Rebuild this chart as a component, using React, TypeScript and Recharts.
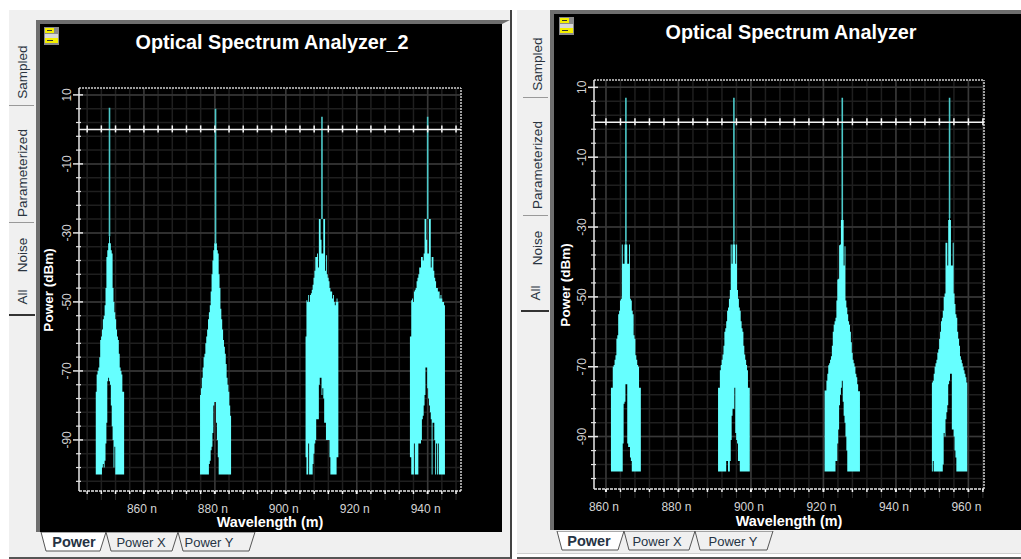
import React from "react";
import { Area, CartesianGrid, ComposedChart, Line, ReferenceLine, XAxis, YAxis } from "recharts";

const FONT = '"Liberation Sans", Arial, sans-serif';

// nm from each carrier; every band below has one value per offset
const offsets = [
  -5, -4.75, -4.5, -4.25, -4, -3.75, -3.5, -3.25, -3, -2.75,
  -2.5, -2.25, -2, -1.75, -1.5, -1.25, -1, -0.75, -0.5, -0.25,
  0, 0.25, 0.5, 0.75, 1, 1.25, 1.5, 1.75, 2, 2.25,
  2.5, 2.75, 3, 3.25, 3.5, 3.75, 4, 4.25, 4.5, 4.75,
  5,
];

const flatRow = [-100, -100, -100, -100, -100, -100, -100, -100, -100, -100];

// left analyzer (Optical Spectrum Analyzer_2)
const top850 = [
  -100, -100, -100, -100, -100, -76, -71, -70, -69, -66,
  -61, -60, -58, -55, -54, -51, -46, -37, -35, -33,
  -31, -33, -35, -36, -46, -50, -53, -55, -58, -60,
  -61, -65, -69, -70, -71, -76, -76, -100, -100, -100,
  -100,
];
const floor850 = [
  ...flatRow,
  -100, -100, -98, -97, -98, -96, -91, -85, -73, -72,
  -73, -74, -80, -86, -90, -98, -92, -100, -100, -100,
  ...flatRow,
  -100,
];
const top880 = [
  -100, -100, -100, -77, -75, -72, -69, -66, -65, -62,
  -60, -58, -55, -53, -51, -47, -42, -38, -35, -33,
  -33, -33, -35, -36, -42, -46, -52, -55, -58, -61,
  -63, -65, -68, -72, -74, -76, -80, -83, -100, -100,
  -100,
];
const floor880 = [
  ...flatRow,
  -100, -100, -100, -97, -96, -93, -92, -88, -80, -79,
  -79, -85, -90, -95, -100, -100, -100, -100, -100, -100,
  ...flatRow,
  -100,
];
const top910 = [
  -100, -100, -60, -49.5, -50, -48, -50, -48, -47.5, -46.5,
  -45, -43, -41, -37, -37, -36, -40, -26, -26, -32,
  -36, -36, -26, -26, -41, -36.5, -42, -43, -44, -46,
  -47, -47, -49, -48, -50, -51, -50, -49, -50, -100,
  -100,
];
const floor910 = [
  -100, -100, -95, -100, -100, -91, -100, -100, -100, -100,
  -97, -94, -91, -90, -84, -84, -84, -74, -72, -72,
  -77, -75, -78, -85, -85, -90, -90, -90, -90, -95,
  -100, -100, -100, -100, -100, -100, -100, -95, -95, -100,
  -100,
];
const top940 = [
  -60, -60, -49.5, -49, -50, -47, -46.5, -46, -44, -43,
  -42, -40, -40, -37, -37, -38, -36, -26, -26, -32,
  -36, -36, -26, -26, -40, -37, -37, -41, -43, -44,
  -46, -46, -47, -47, -49, -48, -49, -50, -50, -51,
  -100,
];
const floor940 = [
  -95, -95, -100, -100, -100, -91, -100, -100, -100, -100,
  -91, -91, -91, -90, -84, -83, -80, -77, -69, -69,
  -75, -78, -80, -82, -84, -100, -85, -85, -90, -100,
  -91, -100, -91, -100, -100, -100, -100, -100, -100, -100,
  -100,
];

// right analyzer
const top865 = [
  -100, -100, -100, -100, -76, -76, -70, -69.5, -68, -66.7,
  -62, -61, -55, -54, -51, -50.5, -35, -40.5, -40.5, -35,
  -34, -35, -40.5, -40.5, -35, -50.5, -51, -54, -55, -61,
  -62, -66.7, -68, -69.5, -70, -76, -76, -100, -100, -100,
  -100,
];
const floor865 = [
  ...flatRow,
  -100, -100, -100, -100, -100, -100, -100, -92, -80.6, -80,
  -75, -75, -92, -93, -93, -96, -97, -100, -100, -100,
  ...flatRow,
  -100,
];
const top895 = [
  -100, -100, -100, -76, -76, -71, -69.5, -68, -66.5, -64,
  -60, -59, -57, -54, -53, -50.5, -48, -35, -40.5, -35,
  -34, -35, -40.5, -35, -48, -50.5, -53, -54, -57, -59,
  -60, -64, -66.5, -68, -69.5, -71, -76, -76, -100, -100,
  -100,
];
const floor895 = [
  ...flatRow,
  -100, -100, -97, -97, -100, -100, -97, -91, -84, -82,
  -82, -76, -89, -91, -92, -97, -97, -100, -100, -100,
  ...flatRow,
  -100,
];
const top925 = [
  -100, -76.8, -76.8, -74, -72, -69.6, -69, -68, -67, -64,
  -60, -58, -57, -56, -51, -45, -44.8, -35.2, -35, -28,
  -28, -28, -41, -35.5, -51, -53, -55, -57, -58, -60,
  -63, -66, -68, -69, -70, -72, -73, -75, -77, -77,
  -100,
];
const floor925 = [
  ...flatRow,
  -100, -100, -100, -97, -97, -92, -88, -81, -78, -76,
  -74, -80, -84, -86, -90, -94, -100, -100, -100, -100,
  ...flatRow,
  -100,
];
const top955 = [
  -100, -74.5, -74, -72, -70, -69, -68, -66, -65, -62,
  -60, -57, -56, -54, -50, -49, -34.5, -34.5, -41, -28,
  -27.5, -28, -41, -41, -34.5, -49, -52, -55, -56, -60,
  -62, -64, -67, -68, -69, -70, -71, -72, -73, -74.5,
  -100,
];
const floor955 = [
  -100, -100, -97, -100, -100, -100, -100, -100, -100, -100,
  -100, -100, -100, -98, -89, -90, -85, -83, -81, -75,
  -74, -72, -72, -88, -88, -90, -94, -96, -100, -100,
  ...flatRow,
  -100,
];

const leftCarriers = [850.3, 880.2, 910.2, 940];
const leftPeakPower = [6.3, 6, 3.7, 3.7];
const leftTops = [top850, top880, top910, top940];
const leftFloors = [floor850, floor880, floor910, floor940];
const leftSpikeFoot = [-31, -33, -26, -26];
const leftDomainX = [841.7, 949.4];
const leftDomainY = [-104.8, 12];
const leftTicksX = [844, 848, 852, 856, 860, 864, 868, 872, 876, 880, 884, 888, 892, 896, 900, 904, 908, 912, 916, 920, 924, 928, 932, 936, 940, 944, 948];

const rightCarriers = [865.5, 895.3, 925.2, 954.8];
const rightPeakPower = [7, 7, 7, 7];
const rightTops = [top865, top895, top925, top955];
const rightFloors = [floor865, floor895, floor925, floor955];
const rightSpikeFoot = [-34, -34, -28, -27.5];
const rightDomainX = [856.7, 964.3];
const rightDomainY = [-105, 12.1];
const rightTicksX = [860, 864, 868, 872, 876, 880, 884, 888, 892, 896, 900, 904, 908, 912, 916, 920, 924, 928, 932, 936, 940, 944, 948, 952, 956, 960, 964];

const ticksY = [10, 6, 2, -2, -6, -10, -14, -18, -22, -26, -30, -34, -38, -42, -46, -50, -54, -58, -62, -66, -70, -74, -78, -82, -86, -90, -94, -98, -102];
const majorY = [10, -10, -30, -50, -70, -90];
const majorX = [860, 880, 900, 920, 940, 960];

const sideTabs = ["Sampled", "Parameterized", "Noise", "All"];
const plotTabs = ["Power", "Power X", "Power Y"];

function buildRows(carriers: number[], tops: number[][], floors: number[][], peaks: number[], feet: number[], domain: number[], ticks: number[]) {
  const rows: any[] = [];
  carriers.forEach((c, p) => {
    offsets.forEach((o, i) => rows.push({ wl: c + o, band: [floors[p][i], tops[p][i]] }));
    rows.push({ wl: c + 5.1, band: [null, null] });
  });
  carriers.forEach((c, p) => {
    rows.push({ wl: c, spike: peaks[p] });
    rows.push({ wl: c, spike: feet[p] });
    rows.push({ wl: c });
  });
  // the axis that crosses at 0 dBm, with its own tick marks
  rows.push({ wl: domain[0], zero: 0 });
  ticks.forEach((t) => rows.push({ wl: t, zero: 0, mark: true }));
  rows.push({ wl: domain[1], zero: 0 });
  return rows;
}

const XTick = ({ x, y, payload }: any) => {
  const major = majorX.includes(payload.value);
  return (
    <g>
      <line x1={x} x2={x} y1={y - 8} y2={y - 5} stroke="#f0f0f0" strokeWidth={major ? 2 : 1.5} />
      <line x1={x} x2={x} y1={y - 5} y2={y + 1} stroke="#2a2a2a" strokeWidth={1} />
      {major && (
        <text x={x - 2} y={y + 14} textAnchor="middle" fontSize={12} fontFamily={FONT} fill="#d4d4d4">
          {payload.value + " n"}
        </text>
      )}
    </g>
  );
};

const YTick = ({ x, y, payload }: any) => {
  const major = majorY.includes(payload.value);
  return (
    <g>
      <line x1={major ? x + 2 : x + 5} x2={major ? x + 12 : x + 10} y1={y} y2={y} stroke="#e4e4e4" strokeWidth={major ? 1.5 : 1.2} />
      {major && (
        <text x={x} y={y} transform={`rotate(-90 ${x} ${y})`} textAnchor="middle" fontSize={12} fontFamily={FONT} fill="#d4d4d4">
          {payload.value}
        </text>
      )}
    </g>
  );
};

const ZeroMark = ({ cx, cy, payload, key }: any) =>
  payload.mark ? <line key={key ?? payload.wl} x1={cx} x2={cx} y1={cy - 4} y2={cy + 3} stroke="#f4f4f4" strokeWidth={1.5} /> : <g key={key ?? payload.wl} />;

function Spectrum({ width, height, margin, rows, domainX, domainY, ticksX, axisWidth, axisHeight, powerX, powerY }: any) {
  const majorGridX = majorX.filter((v) => v > domainX[0] && v < domainX[1]);
  return (
    <ComposedChart width={width} height={height} data={rows} margin={margin}>
      <CartesianGrid stroke="#1f1f1f" strokeWidth={1.5} horizontalValues={ticksY} verticalValues={ticksX} />
      <CartesianGrid stroke="#383838" strokeWidth={1.5} horizontalValues={majorY} verticalValues={majorGridX} />
      <XAxis
        type="number"
        dataKey="wl"
        domain={domainX}
        ticks={ticksX}
        interval={0}
        allowDataOverflow
        height={axisHeight}
        tickLine={false}
        tick={<XTick />}
        axisLine={{ stroke: "#e8e8e8", strokeWidth: 1.5, strokeDasharray: "3 1" }}
        label={{ value: "Wavelength (m)", position: "insideBottom", offset: 4, fill: "#ffffff", fontSize: 14.4, fontWeight: 700, fontFamily: FONT }}
      />
      <YAxis
        type="number"
        domain={domainY}
        ticks={ticksY}
        interval={0}
        allowDataOverflow
        width={axisWidth}
        tickLine={false}
        tick={<YTick />}
        axisLine={{ stroke: "#e8e8e8", strokeWidth: 1.5 }}
        label={{
          content: () => (
            <text
              x={powerX}
              y={powerY}
              transform={`rotate(-90 ${powerX} ${powerY})`}
              textAnchor="middle"
              fill="#ffffff"
              fontSize={13.5}
              fontWeight={700}
              fontFamily={FONT}
            >
              Power (dBm)
            </text>
          ),
        }}
      />
      <ReferenceLine y={domainY[1]} stroke="#d0d0d0" strokeDasharray="2 1" strokeWidth={1.5} />
      <ReferenceLine x={domainX[1]} stroke="#d0d0d0" strokeDasharray="2 1" strokeWidth={1.5} />
      <Area dataKey="band" type="step" stroke="none" fill="#66ffff" fillOpacity={1} dot={false} activeDot={false} isAnimationActive={false} />
      <Line dataKey="spike" stroke="#4cc8c8" strokeWidth={1.6} dot={false} activeDot={false} isAnimationActive={false} />
      <Line dataKey="zero" stroke="#f4f4f4" strokeWidth={1.5} dot={<ZeroMark />} activeDot={false} isAnimationActive={false} />
    </ComposedChart>
  );
}

const rotated = (cx: number, cy: number): React.CSSProperties => ({
  position: "absolute",
  left: cx,
  top: cy,
  transform: "translate(-50%,-50%) rotate(-90deg)",
  fontFamily: FONT,
  fontSize: 13.5,
  color: "#2a3440",
  whiteSpace: "nowrap",
});

const Icon = ({ x, y }: { x: number; y: number }) => (
  <svg style={{ position: "absolute", left: x, top: y }} width={15} height={18}>
    <rect x={0} y={0} width={15} height={18} fill="#8a8a8a" />
    <rect x={1} y={1} width={9} height={5} fill="#f4f000" />
    <rect x={1} y={7} width={13} height={4} fill="#d8d8d8" />
    <rect x={1} y={11} width={13} height={5} fill="#f4f000" />
    <rect x={3} y={13} width={6} height={1} fill="#333" />
    <rect x={3} y={3} width={5} height={1} fill="#333" />
  </svg>
);

function BottomTabs({ x, y, edges, centers }: { x: number; y: number; edges: number[]; centers: number[] }) {
  return (
    <svg style={{ position: "absolute", left: x, top: y }} width={280} height={24}>
      {plotTabs.map((t, i) => {
        const a = edges[i] - x;
        const b = edges[i + 1] - x;
        const pts = `${a},0 ${a + 5},19 ${b - 6},19 ${b},0`;
        return (
          <g key={t}>
            <polygon points={pts} fill={i === 0 ? "#ffffff" : "#f0f0f0"} stroke="#555" strokeWidth={1} />
            <text
              x={centers[i] - x}
              y={15}
              textAnchor="middle"
              fontSize={i === 0 ? 14.5 : 13}
              fontFamily={FONT}
              fontWeight={i === 0 ? 700 : 400}
              fill="#263444"
            >
              {t}
            </text>
          </g>
        );
      })}
    </svg>
  );
}

export default function App() {
  const leftRows = buildRows(leftCarriers, leftTops, leftFloors, leftPeakPower, leftSpikeFoot, leftDomainX, leftTicksX);
  const rightRows = buildRows(rightCarriers, rightTops, rightFloors, rightPeakPower, rightSpikeFoot, rightDomainX, rightTicksX);
  const titleStyle: React.CSSProperties = {
    position: "absolute",
    transform: "translateX(-50%)",
    fontFamily: FONT,
    fontWeight: 700,
    fontSize: 19.8,
    color: "#ffffff",
    whiteSpace: "nowrap",
  };
  return (
    <div style={{ position: "fixed", left: 0, top: 0, width: 1021, height: 559, overflow: "hidden", background: "#ffffff" }}>
      {/* left window */}
      <div style={{ position: "absolute", left: 9, top: 10, width: 501, height: 547, background: "#f0f0f0", borderRight: "2px solid #444", borderBottom: "2px solid #555" }} />
      <div style={{ position: "absolute", left: 36, top: 20, width: 474, height: 512, background: "#000", boxSizing: "border-box", borderTop: "4px solid #6e6e6e", borderLeft: "4px solid #6e6e6e", borderRight: "8px solid #f0f0f0" }} />
      <div style={rotated(22, 72)}>{sideTabs[0]}</div>
      <div style={rotated(22, 173)}>{sideTabs[1]}</div>
      <div style={rotated(22, 255)}>{sideTabs[2]}</div>
      <div style={rotated(22, 297)}>{sideTabs[3]}</div>
      <div style={{ position: "absolute", left: 9, top: 105, width: 25, height: 1, background: "#999" }} />
      <div style={{ position: "absolute", left: 9, top: 222, width: 25, height: 1, background: "#999" }} />
      <div style={{ position: "absolute", left: 9, top: 314, width: 26, height: 2, background: "#333" }} />
      <Icon x={44} y={27} />
      <div style={{ ...titleStyle, left: 272, top: 31 }}>Optical Spectrum Analyzer_2</div>
      <div style={{ position: "absolute", left: 40, top: 25 }}>
        <Spectrum
          width={462}
          height={506}
          margin={{ top: 63, right: 41, left: 0, bottom: 0 }}
          rows={leftRows}
          domainX={leftDomainX}
          domainY={leftDomainY}
          ticksX={leftTicksX}
          axisWidth={39}
          axisHeight={40}
          powerX={13}
          powerY={265}
        />
      </div>
      <BottomTabs x={40} y={532} edges={[41, 106, 178, 255]} centers={[74, 141, 209]} />

      {/* right window */}
      <div style={{ position: "absolute", left: 517, top: 10, width: 504, height: 543, background: "#f0f0f0", borderBottom: "1px solid #cfcfcf" }} />
      <div style={{ position: "absolute", left: 517, top: 557, width: 504, height: 2, background: "#555" }} />
      <div style={{ position: "absolute", left: 550, top: 10, width: 471, height: 520, background: "#000", boxSizing: "border-box", borderTop: "4px solid #6e6e6e", borderLeft: "4px solid #6e6e6e" }} />
      <div style={rotated(537, 64)}>{sideTabs[0]}</div>
      <div style={rotated(537, 165)}>{sideTabs[1]}</div>
      <div style={rotated(537, 248)}>{sideTabs[2]}</div>
      <div style={rotated(535, 293)}>{sideTabs[3]}</div>
      <div style={{ position: "absolute", left: 523, top: 97, width: 25, height: 1, background: "#999" }} />
      <div style={{ position: "absolute", left: 523, top: 215, width: 25, height: 1, background: "#999" }} />
      <div style={{ position: "absolute", left: 521, top: 310, width: 28, height: 2, background: "#333" }} />
      <Icon x={559} y={17} />
      <div style={{ ...titleStyle, left: 791, top: 21 }}>Optical Spectrum Analyzer</div>
      <div style={{ position: "absolute", left: 554, top: 13 }}>
        <Spectrum
          width={467}
          height={517}
          margin={{ top: 67, right: 37, left: 0, bottom: 0 }}
          rows={rightRows}
          domainX={rightDomainX}
          domainY={rightDomainY}
          ticksX={rightTicksX}
          axisWidth={40}
          axisHeight={41}
          powerX={16}
          powerY={272}
        />
      </div>
      <BottomTabs x={555} y={531} edges={[557, 624, 695, 773]} centers={[589, 657, 733]} />
    </div>
  );
}
